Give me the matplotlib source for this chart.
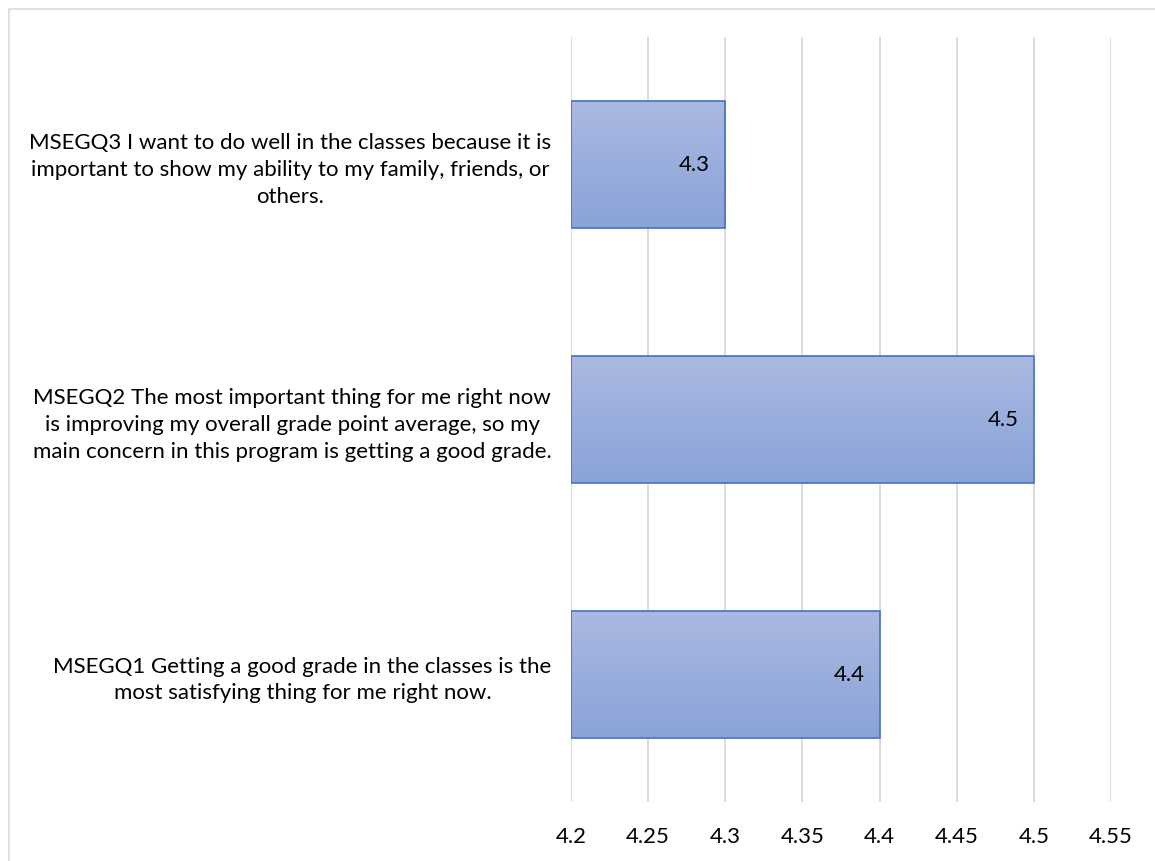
import matplotlib.pyplot as plt
from matplotlib.patches import Rectangle
from matplotlib.colors import LinearSegmentedColormap
import numpy as np

# data, bottom to top
labels = ['MSEGQ1 Getting a good grade in the classes is the\nmost satisfying thing for me right now.',
          'MSEGQ2 The most important thing for me right now\nis improving my overall grade point average, so my\nmain concern in this program is getting a good grade.',
          'MSEGQ3 I want to do well in the classes because it is\nimportant to show my ability to my family, friends, or\nothers.']
values = [4.4, 4.5, 4.3]
xticks = [4.2, 4.25, 4.3, 4.35, 4.4, 4.45, 4.5, 4.55]
x_min = 4.2

plt.rcParams['font.family'] = ['Lato', 'DejaVu Sans']

fig = plt.figure(figsize=(11.55, 8.61), dpi=100)
ax = fig.add_axes([0.4944, 0.0685, 0.4675, 0.8885])

# outer chart border
fig.patches.append(Rectangle((9 / 1155, -0.1), 1.2, (861 - 9) / 861 + 0.1,
                             transform=fig.transFigure, fill=False,
                             edgecolor='#D9D9D9', linewidth=1.2))

y = np.arange(len(values))
bars = ax.barh(y, [v - x_min for v in values], left=x_min, height=0.5,
               color='none', edgecolor='#4472C4', linewidth=1.2, zorder=3)

# vertical gradient fill, light at top
cmap = LinearSegmentedColormap.from_list('g', ['#8AA3D9', '#AAB9E1'])
grad = np.linspace(0, 1, 100).reshape(-1, 1)
for b in bars:
    x0, y0 = b.get_x(), b.get_y()
    w, h = b.get_width(), b.get_height()
    im = ax.imshow(grad, cmap=cmap, aspect='auto',
                   extent=(x0, x0 + w, y0, y0 + h), origin='lower', zorder=2)
    im.set_clip_path(b)

for i, v in enumerate(values):
    ax.annotate(str(v), (v, i), xytext=(-11, 0), textcoords='offset points',
                ha='right', va='center', fontsize=16, color='#000000', zorder=4)

ax.set_xlim(4.2, 4.55)
ax.set_ylim(-0.5, 2.5)
ax.set_xticks(xticks)
ax.set_xticklabels([str(t) for t in xticks], fontsize=16)
ax.set_yticks(y)
ax.set_yticklabels(labels, fontsize=16, multialignment='center', linespacing=1.42)
ax.tick_params(axis='both', length=0)
ax.tick_params(axis='x', pad=18)
ax.tick_params(axis='y', pad=14)
ax.grid(axis='x', color='#D9D9D9', linewidth=1.3, zorder=0)
ax.set_axisbelow(True)
for s in ax.spines.values():
    s.set_visible(False)

fig.savefig('out.png', dpi=100)
